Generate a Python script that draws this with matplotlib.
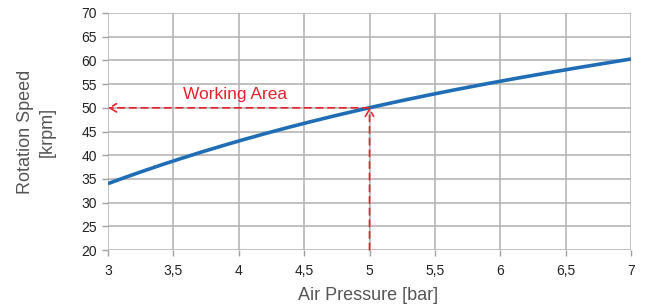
import matplotlib
matplotlib.use("Agg")
import matplotlib.pyplot as plt
import numpy as np

pressure = [3, 3.5, 4, 4.5, 5, 5.5, 6, 6.5, 7]
speed = [34.0, 38.8, 43.0, 46.7, 50.0, 53.0, 55.6, 58.0, 60.3]
xticks = [3, 3.5, 4, 4.5, 5, 5.5, 6, 6.5, 7]
xticklabels = ["3", "3,5", "4", "4,5", "5", "5,5", "6", "6,5", "7"]
yticks = list(range(20, 75, 5))
work_x, work_y = 5, 50

plt.rcParams['font.family'] = ['Liberation Sans', 'DejaVu Sans']
fig = plt.figure(figsize=(6.46, 3.07), dpi=100)
ax = fig.add_axes([108/646, 1-250/307, (631-108)/646, (250-13)/307])

coef = np.polyfit(pressure, speed, 3)
xs = np.linspace(3, 7, 200)
ax.plot(xs, np.polyval(coef, xs), color='#1f6db5', lw=2.6, zorder=3, solid_capstyle='butt')

ax.set_xlim(3, 7)
ax.set_ylim(20, 70)
ax.set_xticks(xticks)
ax.set_xticklabels(xticklabels)
ax.set_yticks(yticks)
ax.grid(True, color='#b0b0b0', lw=1.1)
for s in ax.spines.values():
    s.set_visible(False)
ax.tick_params(axis='both', colors='#a0a0a0', labelcolor='#222222', labelsize=10, length=4, width=1)
ax.tick_params(axis='x', pad=6)
ax.tick_params(axis='y', pad=4)

red = '#e8212e'
ax.annotate('', xy=(3.0, work_y), xytext=(work_x, work_y),
            arrowprops=dict(arrowstyle='->,head_length=0.5,head_width=0.3', color=red, lw=1.2,
                            linestyle=(0, (4, 3)), shrinkA=0, shrinkB=0), zorder=4)
ax.annotate('', xy=(work_x, work_y), xytext=(work_x, 20),
            arrowprops=dict(arrowstyle='->,head_length=0.5,head_width=0.3', color=red, lw=1.2,
                            linestyle=(0, (4, 3)), shrinkA=0, shrinkB=0), zorder=4)
ax.text(3.575, 51.2, 'Working Area', color=red, fontsize=12.5, ha='left', va='bottom')

fig.text(368/646, 1-295/307, 'Air Pressure [bar]', ha='center', va='center', fontsize=13, color='#555555')
fig.text(36/646, 1-132/307, 'Rotation Speed\n[krpm]', ha='center', va='center', fontsize=13,
         color='#555555', rotation=90, linespacing=1.35)

fig.savefig('out.png', dpi=100)
